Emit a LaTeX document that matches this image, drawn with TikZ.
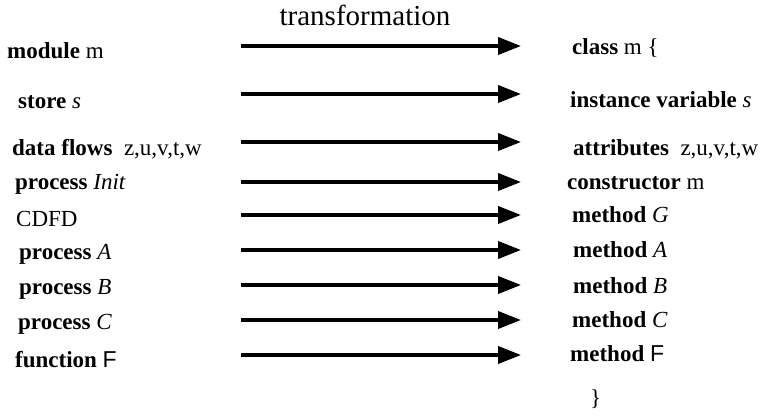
\documentclass[tikz,border=0pt]{standalone}
\usepackage{fontspec}
\setmainfont{Liberation Serif}
\newfontfamily\helv{Liberation Sans}
\usetikzlibrary{arrows.meta}
\begin{document}
\begin{tikzpicture}[x=1pt,y=-1pt,
  lbl/.style={anchor=base west,inner sep=0pt,font=\fontsize{23}{27}\selectfont},
  xform/.style={line width=3.8pt,-{Triangle[length=23pt,width=17pt]}}]
\useasboundingbox (0,0) rectangle (760,417);
\node[anchor=base,inner sep=0pt,font=\fontsize{29}{33}\selectfont] (title) at (365,26) {transformation};
% source constructs
\node[lbl] (m1) at (7,59) {\textbf{module} m};
\node[lbl] (m2) at (18,109) {\textbf{store} \textit{s}};
\node[lbl] (m3) at (12,155) {\textbf{data flows}\ \ z,u,v,t,w};
\node[lbl] (m4) at (15,189) {\textbf{process} \textit{Init}};
\node[lbl] (m5) at (16,226) {CDFD};
\node[lbl] (m6) at (19,259) {\textbf{process} \textit{A}};
\node[lbl] (m7) at (19,294) {\textbf{process} \textit{B}};
\node[lbl] (m8) at (18,329) {\textbf{process} \textit{C}};
\node[lbl] (m9) at (15,367) {\textbf{function} {\helv F}};
% target constructs
\node[lbl] (c1) at (572,55) {\textbf{class} m \{};
\node[lbl] (c2) at (570,108) {\textbf{instance variable} \textit{s}};
\node[lbl] (c3) at (573,155) {\textbf{attributes}\ \ z,u,v,t,w};
\node[lbl] (c4) at (567,189) {\textbf{constructor} m};
\node[lbl] (c5) at (572,222) {\textbf{method} \textit{G}};
\node[lbl] (c6) at (573,257) {\textbf{method} \textit{A}};
\node[lbl] (c7) at (573,293) {\textbf{method} \textit{B}};
\node[lbl] (c8) at (572,327) {\textbf{method} \textit{C}};
\node[lbl] (c9) at (570,361) {\textbf{method} {\helv F}};
\node[lbl] (cend) at (590,405) {\}};
% transformation arrows
\foreach \i/\y in {1/46,2/94,3/142,4/182,5/215,6/250,7/285,8/320,9/355}{
  \coordinate (s\i) at (241,\y);
  \coordinate (t\i) at (521,\y);
  \draw[xform] (s\i) -- (t\i);
}
\end{tikzpicture}
\end{document}
